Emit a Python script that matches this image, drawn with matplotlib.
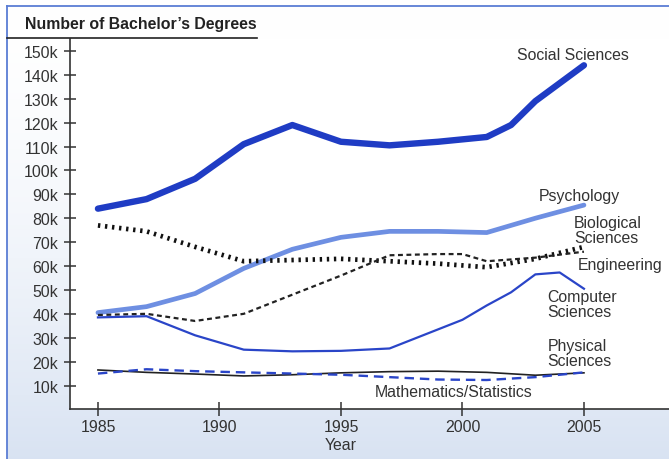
import numpy as np
import matplotlib
matplotlib.use('Agg')
import matplotlib.pyplot as plt
from matplotlib.lines import Line2D
from matplotlib.transforms import blended_transform_factory

plt.rcParams['font.family'] = ['Liberation Sans', 'DejaVu Sans']

# values in thousands of degrees
social_years = [1985, 1987, 1989, 1991, 1993, 1995, 1997, 1999, 2001, 2002, 2003, 2004, 2005]
social = [84, 88, 96.5, 111, 119, 112, 110.5, 112, 114, 119, 129, 136.5, 144]

psych_years = [1985, 1987, 1989, 1991, 1993, 1995, 1997, 1999, 2001, 2003, 2005]
psych = [40.5, 43, 48.5, 59, 67, 72, 74.5, 74.5, 74, 80, 85.5]

bio_years = [1985, 1987, 1989, 1991, 1993, 1995, 1997, 1999, 2001, 2003, 2004, 2005]
bio = [77, 74.5, 68, 62, 62.5, 63, 62, 61, 59.5, 63, 65.5, 68]

eng_years = [1985, 1987, 1989, 1991, 1993, 1995, 1997, 1999, 2000, 2001, 2003, 2005]
eng = [39.5, 40, 37, 40, 48, 56, 64.5, 65, 65, 62, 63.5, 66]

comp_years = [1985, 1987, 1989, 1991, 1993, 1995, 1997, 1999, 2000, 2001, 2002, 2003, 2004, 2005]
comp = [38.5, 39, 31, 25, 24.3, 24.5, 25.5, 33.5, 37.5, 43.5, 49, 56.5, 57.3, 50.5]

phys_years = [1985, 1987, 1989, 1991, 1993, 1995, 1997, 1999, 2001, 2003, 2005]
phys = [16.5, 15.5, 14.8, 14, 14.5, 15.3, 15.8, 16, 15.5, 14.3, 15.3]

math_years = [1985, 1987, 1989, 1991, 1993, 1995, 1997, 1999, 2001, 2003, 2005]
math = [15, 16.8, 16, 15.5, 15, 14.5, 13.5, 12.5, 12.3, 13.5, 15.5]

yticks = list(range(10, 151, 10))
xticks = [1985, 1990, 1995, 2000, 2005]

txt = '#333333'
fs = 11.4

fig = plt.figure(figsize=(6.69, 4.6), dpi=100)
fig.patch.set_facecolor('white')

# background gradient inside the frame
bg = fig.add_axes([7 / 669, 0, 1 - 7 / 669, 1 - 7 / 460], zorder=-10)
grad = np.linspace(0, 1, 256) ** 1.6
c0 = np.array([1.0, 1.0, 1.0])
c1 = np.array([0.85, 0.89, 0.95])
img = c0[None, None, :] * (1 - grad[:, None, None]) + c1[None, None, :] * grad[:, None, None]
bg.imshow(np.repeat(img, 2, axis=1), aspect='auto', extent=[0, 1, 0, 1])
bg.set_xlim(0, 1)
bg.set_ylim(0, 1)
bg.axis('off')

# frame lines and title underline
fig.add_artist(Line2D([7 / 669, 7 / 669], [0, 1 - 7 / 460], color='#5a7dd4', lw=1.3))
fig.add_artist(Line2D([7 / 669, 1], [1 - 7 / 460, 1 - 7 / 460], color='#5a7dd4', lw=1.3))
fig.add_artist(Line2D([7 / 669, 257 / 669], [1 - 39 / 460, 1 - 39 / 460], color='#222222', lw=1.2))
fig.text(25 / 669, 1 - 25 / 460, "Number of Bachelor\u2019s Degrees", fontsize=fs,
         fontweight='bold', color='#222222', va='center', ha='left')

ax = fig.add_axes([70 / 669, 1 - 410.4 / 460, 1 - 70 / 669, (410.4 - 40) / 460])
ax.set_facecolor('white')

ax.plot(social_years, social, color='#1f3cc4', lw=4.6, solid_capstyle='round', solid_joinstyle='round')
ax.plot(psych_years, psych, color='#6e8fe2', lw=3.4, solid_capstyle='round')
ax.plot(bio_years, bio, color='#111111', lw=3.4, linestyle=(0, (0.5, 1.0)))
ax.plot(eng_years, eng, color='#222222', lw=1.6, linestyle=(0, (2.2, 1.6)))
ax.plot(comp_years, comp, color='#2a45c8', lw=1.6)
ax.plot(phys_years, phys, color='#222222', lw=1.2)
ax.plot(math_years, math, color='#2a45c8', lw=1.7, linestyle=(0, (4, 2.5)))

ax.text(2002.24, 148.7, 'Social Sciences', fontsize=fs, color=txt, va='center', ha='left')
ax.text(2003.15, 89.7, 'Psychology', fontsize=fs, color=txt, va='center', ha='left')
ax.text(2004.6, 75, 'Biological\nSciences', fontsize=fs, color=txt, va='center', ha='left', linespacing=0.95)
ax.text(2004.75, 60.8, 'Engineering', fontsize=fs, color=txt, va='center', ha='left')
ax.text(2003.5, 44.1, 'Computer\nSciences', fontsize=fs, color=txt, va='center', ha='left', linespacing=0.95)
ax.text(2003.5, 23.6, 'Physical\nSciences', fontsize=fs, color=txt, va='center', ha='left', linespacing=0.95)
ax.text(1999.65, 7.3, 'Mathematics/Statistics', fontsize=fs, color=txt, va='center', ha='center')

ax.set_xlim(1983.85, 2008.5)
ax.set_ylim(0, 155)
ax.set_yticks(yticks)
ax.set_yticklabels([f'{v}k' for v in yticks])
ax.set_xticks(xticks)
ax.tick_params(axis='both', direction='inout', colors='#333333', labelcolor=txt, labelsize=fs, width=1.1)
ax.tick_params(axis='y', length=8, pad=4.5)
ax.tick_params(axis='x', length=10, pad=2)

for s in ['top', 'right']:
    ax.spines[s].set_visible(False)
for s in ['left', 'bottom']:
    ax.spines[s].set_color('#333333')
    ax.spines[s].set_linewidth(1.2)

trans = blended_transform_factory(ax.transData, fig.transFigure)
ax.text(1995, 1 - 446 / 460, 'Year', transform=trans, fontsize=fs, color=txt, ha='center', va='center')

fig.savefig('out.png', dpi=100)
